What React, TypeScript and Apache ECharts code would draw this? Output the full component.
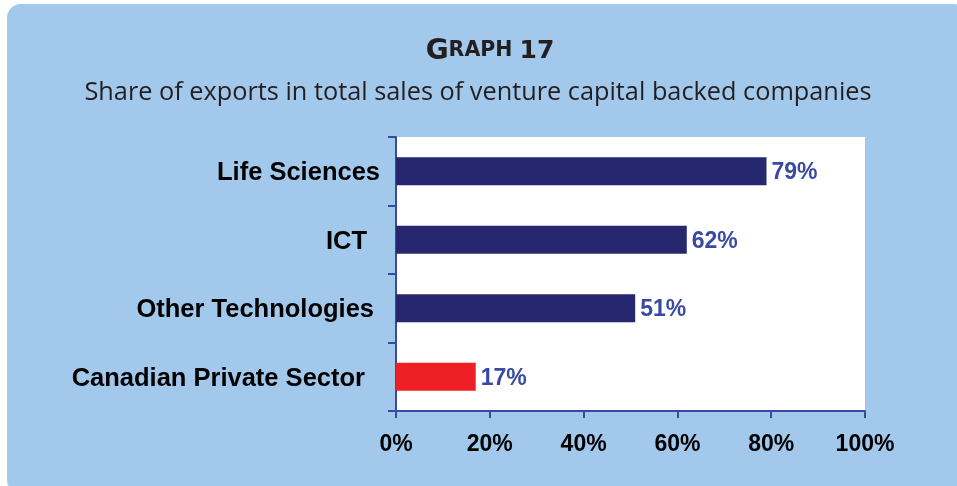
import React, { useEffect, useRef } from "react";
import * as echarts from "echarts";

const categories = ["Life Sciences", "ICT", "Other Technologies", "Canadian Private Sector"];
const values = [79, 62, 51, 17];
const barColors = ["#27276f", "#27276f", "#27276f", "#ee1f25"];
const xMin = 0;
const xMax = 100;
const xInterval = 20;
const titleMain = "GRAPH 17";
const subtitle = "Share of exports in total sales of venture capital backed companies";
// extra right padding per category label (visual alignment as in reference)
const labelPads = [0, 13, 6, 15];

export default function App() {
  const ref = useRef<HTMLDivElement>(null);
  useEffect(() => {
    if (!ref.current) return;
    const chart = echarts.init(ref.current, null, { renderer: "svg" });
    const axisColor = "#3a4aa3";
    const rich: Record<string, any> = {};
    labelPads.forEach((p, i) => {
      rich["p" + i] = {
        fontFamily: "Liberation Sans, Arial, sans-serif",
        fontWeight: "bold",
        fontSize: 25.5,
        color: "#000",
        padding: [0, p, 0, 0],
      };
    });
    chart.setOption({
      animation: false,
      graphic: [
        {
          type: "rect",
          z: -10,
          silent: true,
          shape: { x: 7, y: 4, width: 960, height: 490, r: [14, 14, 0, 14] },
          style: { fill: "#a2c8eb" },
        },
        {
          type: "text",
          x: 490,
          y: 49,
          style: {
            text: "{g|" + titleMain.slice(0, 1) + "}{s|" + titleMain.slice(1, 5) + " }{n|" + titleMain.slice(6) + "}",
            align: "center",
            verticalAlign: "middle",
            rich: {
              g: { fontFamily: "DejaVu Sans", fontWeight: "bold", fontSize: 28, fill: "#231f20" },
              s: { fontFamily: "DejaVu Sans", fontWeight: "bold", fontSize: 20.5, fill: "#231f20" },
              n: { fontFamily: "DejaVu Sans", fontWeight: "bold", fontSize: 25, fill: "#231f20" },
            },
          },
        },
        {
          type: "text",
          x: 478,
          y: 90,
          style: {
            text: subtitle,
            align: "center",
            verticalAlign: "middle",
            fontFamily: "Open Sans",
            fontSize: 25.3,
            fill: "#231f20",
          },
        },
      ],
      grid: {
        left: 396,
        right: 92,
        top: 137,
        bottom: 75,
        show: true,
        backgroundColor: "#ffffff",
        borderWidth: 0,
      },
      xAxis: {
        type: "value",
        min: xMin,
        max: xMax,
        interval: xInterval,
        axisLine: { show: true, lineStyle: { color: axisColor, width: 2 } },
        axisTick: { show: true, length: 7, lineStyle: { color: axisColor, width: 2 } },
        splitLine: { show: false },
        axisLabel: {
          formatter: "{value}%",
          margin: 20,
          fontFamily: "Liberation Sans, Arial, sans-serif",
          fontWeight: "bold",
          fontSize: 23,
          color: "#000",
        },
      },
      yAxis: {
        type: "category",
        inverse: true,
        data: categories,
        axisLine: { show: true, lineStyle: { color: axisColor, width: 2 } },
        axisTick: { show: true, length: 8, lineStyle: { color: axisColor, width: 2 } },
        axisLabel: {
          margin: 16,
          formatter: (v: string, i: number) => "{p" + i + "|" + v + "}",
          rich,
        },
      },
      series: [
        {
          type: "bar",
          barWidth: 28,
          data: values.map((v, i) => ({ value: v, itemStyle: { color: barColors[i] } })),
          label: {
            show: true,
            position: "right",
            distance: 5,
            formatter: "{c}%",
            fontFamily: "Liberation Sans, Arial, sans-serif",
            fontWeight: "bold",
            fontSize: 23,
            color: "#3a4aa3",
          },
        },
      ],
    });
    return () => chart.dispose();
  }, []);
  return (
    <div
      ref={ref}
      style={{ position: "fixed", left: 0, top: 0, width: 957, height: 486 }}
    />
  );
}
